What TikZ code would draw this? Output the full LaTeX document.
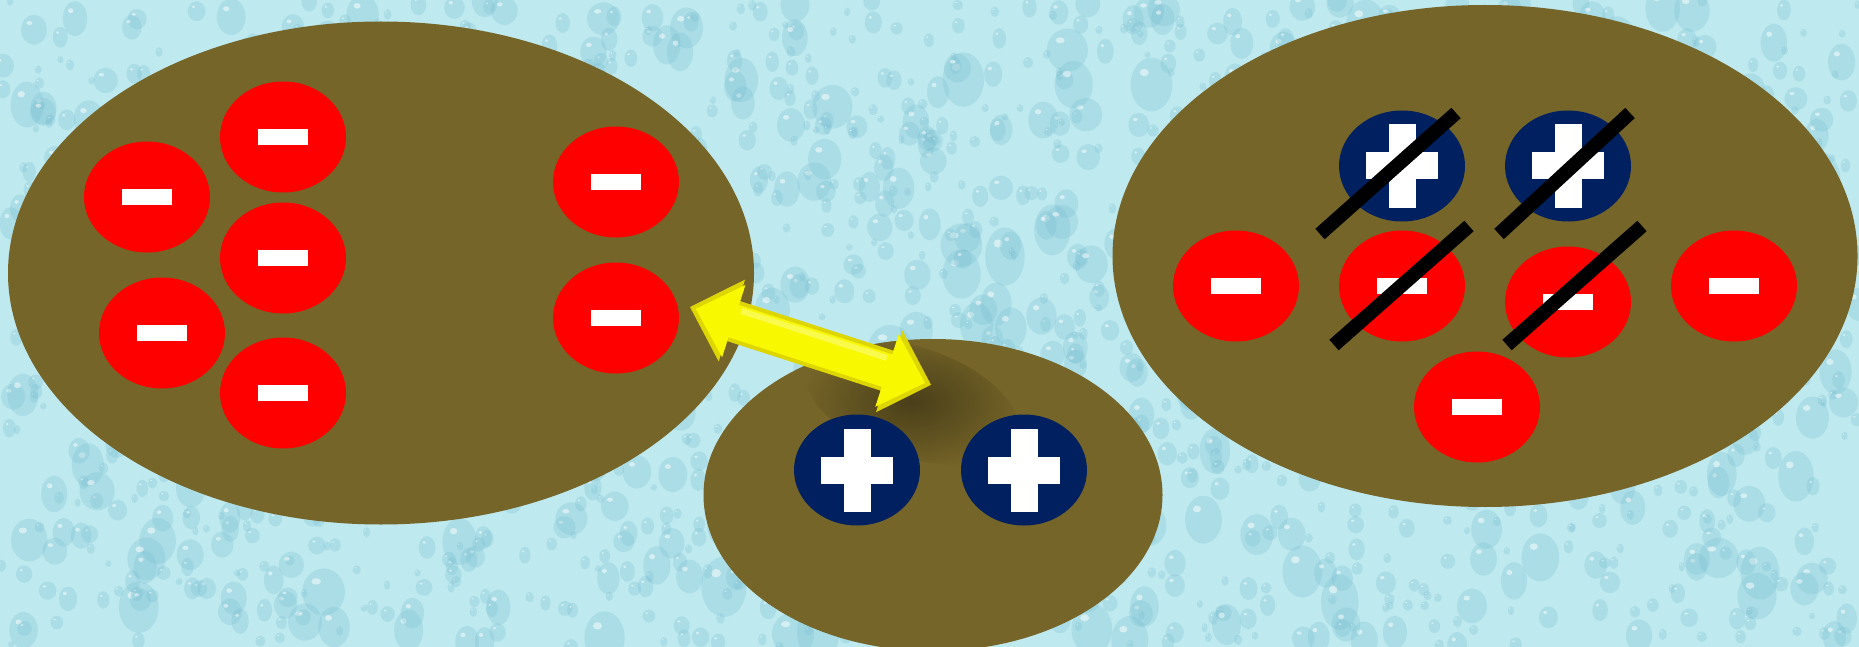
\documentclass[tikz,border=0pt]{standalone}
\usetikzlibrary{shapes.geometric}
\definecolor{bgcol}{RGB}{190,233,239}
\definecolor{dropcol}{RGB}{120,190,208}
\definecolor{olivebrown}{RGB}{118,101,40}
\definecolor{chargered}{RGB}{255,0,0}
\definecolor{chargenavy}{RGB}{0,32,96}
\definecolor{arrowyellow}{RGB}{248,248,0}
\definecolor{arrowedge}{RGB}{222,214,0}
\begin{document}
\begin{tikzpicture}[x=1pt,y=-1pt,
  blob/.style={ellipse, fill=olivebrown, inner sep=0pt},
  negcharge/.style={ellipse, fill=chargered, inner sep=0pt,
    minimum width=126pt, minimum height=111pt,
    path picture={\fill[white] ([shift={(-25pt,-8pt)}]path picture bounding box.center) rectangle ++(50pt,16pt);}},
  poscharge/.style={ellipse, fill=chargenavy, inner sep=0pt,
    minimum width=126pt, minimum height=111pt,
    path picture={\fill[white] ([shift={(-36pt,-13.5pt)}]path picture bounding box.center) rectangle ++(72pt,27pt);
                  \fill[white] ([shift={(-13.5pt,-41.5pt)}]path picture bounding box.center) rectangle ++(27pt,83pt);}},
  slash/.style={line width=14pt, black, line cap=butt},
  droplet/.style={fill=dropcol, opacity=0.28},
  glint/.style={fill=white, opacity=0.5}
]
\useasboundingbox (0,0) rectangle (1859,647);
% background with water droplets
\fill[bgcol] (0,0) rectangle (1859,647);
\begin{scope}
  \clip (0,0) rectangle (1859,647);
  \pgfmathsetseed{11}
  \foreach \i in {1,...,1800}{
    \pgfmathsetmacro\dx{rnd*1859}
    \pgfmathsetmacro\dy{rnd*647}
    \pgfmathsetmacro\dr{3+rnd*rnd*20}
    \pgfmathsetmacro\dh{\dr*(1+0.5*rnd)}
    \fill[droplet] (\dx,\dy) ellipse [x radius=\dr, y radius=\dh];
    \fill[glint] (\dx-0.35*\dr,\dy-0.45*\dh) ellipse [x radius=0.22*\dr, y radius=0.14*\dh];
  }
\end{scope}
% cells
\node[blob, minimum width=746pt, minimum height=503pt] (left) at (381,273) {};
\node[blob, minimum width=459pt, minimum height=312pt] (mid) at (933,495) {};
\node[blob, minimum width=745pt, minimum height=502pt] (right) at (1485,256) {};
% soft shadow of the arrow on the middle cell
\begin{scope}
  \clip (933,495) ellipse [x radius=229.5, y radius=156];
  \shade[inner color=black!38!olivebrown, outer color=olivebrown, rotate around={-18:(912,402)}]
    (912,402) ellipse [x radius=110, y radius=55];
\end{scope}
% charges, left cell
\node[negcharge] (n1) at (147,197) {};
\node[negcharge] (n2) at (283,137) {};
\node[negcharge] (n3) at (283,258) {};
\node[negcharge] (n4) at (162,333) {};
\node[negcharge] (n5) at (283,393) {};
\node[negcharge] (n6) at (616,182) {};
\node[negcharge] (n7) at (616,318) {};
% charges, middle cell
\node[poscharge] (p1) at (857,470) {};
\node[poscharge] (p2) at (1024,470) {};
% charges, right cell
\node[poscharge] (p3) at (1402,166) {};
\node[poscharge] (p4) at (1568,166) {};
\node[negcharge] (r1) at (1236,286) {};
\node[negcharge] (r2) at (1402,286) {};
\node[negcharge] (r3) at (1568,302) {};
\node[negcharge] (r4) at (1734,286) {};
\node[negcharge] (r5) at (1477,407) {};
% crossing-out strokes
\coordinate (s1a) at (1320,234); \coordinate (s1b) at (1456,113);
\coordinate (s2a) at (1499,234); \coordinate (s2b) at (1630,113);
\coordinate (s3a) at (1334,345); \coordinate (s3b) at (1469,226);
\coordinate (s4a) at (1507,345); \coordinate (s4b) at (1642,226);
\draw[slash] (s1a) -- (s1b);
\draw[slash] (s2a) -- (s2b);
\draw[slash] (s3a) -- (s3b);
\draw[slash] (s4a) -- (s4b);
% yellow double arrow
\coordinate (arrL) at (690,307);
\coordinate (arrR) at (931,385);
\begin{scope}[shift={(arrL)}, rotate=-17.9]
  \fill[arrowedge]
    (0,0) -- (44,43) -- (44,21) -- (209.3,21) -- (209.3,43) -- (253.3,0)
    -- (209.3,-43) -- (209.3,-21) -- (44,-21) -- (44,-43) -- cycle;
  \fill[arrowyellow]
    (6,0) -- (46,38) -- (46,17) -- (207,17) -- (207,38) -- (247,0)
    -- (207,-38) -- (207,-17) -- (46,-17) -- (46,-38) -- cycle;
  \fill[white, opacity=0.3] (50,-15) rectangle (203,-9);
\end{scope}
\end{tikzpicture}
\end{document}
